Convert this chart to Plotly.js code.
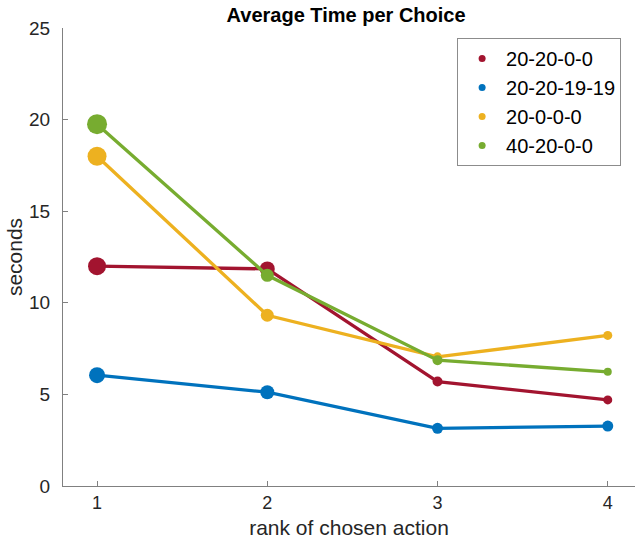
<!DOCTYPE html>
<html>
<head>
<meta charset="utf-8">
<script src="https://cdn.plot.ly/plotly-3.0.1.min.js"></script>
<style>html,body{margin:0;padding:0;background:#fff;}#chart{width:635px;height:543px;}</style>
</head>
<body>
<div id="chart"></div>
<script>
const ranks = [1, 2, 3, 4];
const seriesNames = ['20-20-0-0', '20-20-19-19', '20-0-0-0', '40-20-0-0'];
const times_20_20_0_0 = [12.0, 11.85, 5.7, 4.7];
const times_20_20_19_19 = [6.05, 5.12, 3.15, 3.27];
const times_20_0_0_0 = [18.0, 9.32, 7.05, 8.22];
const times_40_20_0_0 = [19.75, 11.5, 6.87, 6.23];
const sizes_20_20_0_0 = [18, 15, 10, 9];
const sizes_20_20_19_19 = [16, 14, 11, 11];
const sizes_20_0_0_0 = [19, 13, 9, 9];
const sizes_40_20_0_0 = [20, 13, 10, 8];
const colors = ['#A2142F', '#0072BD', '#EDB120', '#77AC30'];

const values = [times_20_20_0_0, times_20_20_19_19, times_20_0_0_0, times_40_20_0_0];
const sizes = [sizes_20_20_0_0, sizes_20_20_19_19, sizes_20_0_0_0, sizes_40_20_0_0];

const traces = [];
values.forEach((v, i) => {
  traces.push({
    x: ranks, y: v, type: 'scatter', mode: 'lines+markers',
    line: {color: colors[i], width: 3.3},
    marker: {color: colors[i], size: sizes[i], opacity: 1, line: {width: 0}},
    opacity: 1,
    showlegend: false, hoverinfo: 'skip'
  });
});
seriesNames.forEach((n, i) => {
  traces.push({
    x: [null], y: [null], type: 'scatter', mode: 'markers', name: n,
    marker: {color: colors[i], size: 7, opacity: 1, line: {width: 0}}, showlegend: true
  });
});

const font = 'Liberation Sans, Arial, Helvetica, sans-serif';
const layout = {
  width: 635, height: 543,
  margin: {l: 63, r: 0, t: 28, b: 57, pad: 0},
  paper_bgcolor: '#ffffff', plot_bgcolor: '#ffffff',
  font: {family: font, color: '#262626', size: 18},
  title: {text: '<b>Average Time per Choice</b>', font: {family: font, size: 20, color: '#000'},
          xref: 'container', x: 0.545, xanchor: 'center', yref: 'container', y: 0.973, yanchor: 'middle'},
  xaxis: {
    range: [0.8, 4.16], tickvals: ranks, ticktext: ranks.map(String),
    showgrid: false, zeroline: false, showline: true, linecolor: '#808080', linewidth: 1,
    ticks: 'inside', ticklen: 5, tickcolor: '#808080', tickfont: {size: 18, color: '#262626'},
    title: {text: 'rank of chosen action', font: {size: 21, color: '#262626'}, standoff: 8},
    fixedrange: true
  },
  yaxis: {
    range: [0, 25], tickvals: [0, 5, 10, 15, 20, 25],
    showgrid: false, zeroline: false, showline: true, linecolor: '#808080', linewidth: 1,
    ticks: 'inside', ticklen: 5, tickcolor: '#808080', tickfont: {size: 19, color: '#262626'},
    ticklabelstandoff: 8,
    title: {text: 'seconds', font: {size: 21, color: '#262626'}, standoff: 0},
    fixedrange: true
  },
  legend: {
    x: 0.689, y: 0.978, xanchor: 'left', yanchor: 'top',
    bgcolor: '#ffffff', bordercolor: '#8c8c8c', borderwidth: 1,
    font: {size: 20, color: '#000'}, itemwidth: 38
  }
};
Plotly.newPlot('chart', traces, layout, {displayModeBar: false, staticPlot: true});
</script>
</body>
</html>
